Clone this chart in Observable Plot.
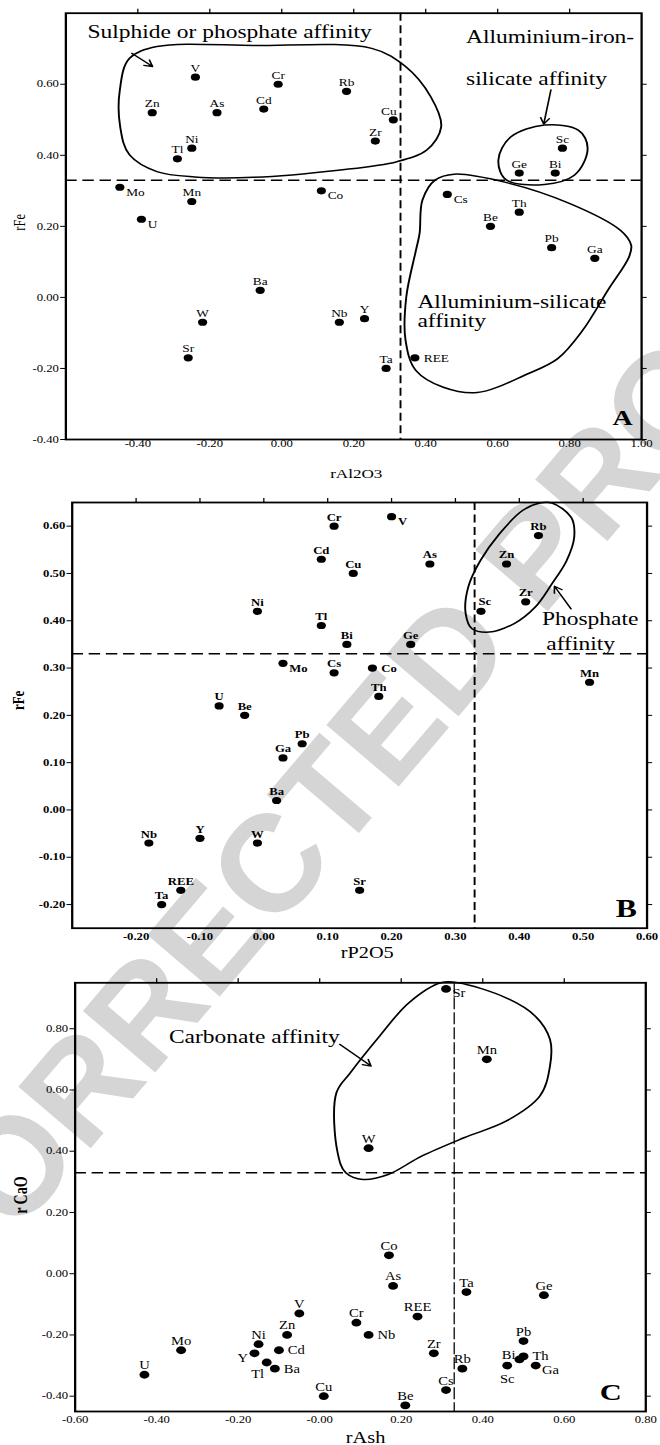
<!DOCTYPE html>
<html>
<head>
<meta charset="utf-8">
<script src="https://cdn.jsdelivr.net/npm/d3@7"></script>
<script src="https://cdn.jsdelivr.net/npm/@observablehq/plot@0.6"></script>
<style>
  html, body { margin: 0; padding: 0; background: #fff; }
  body { width: 660px; height: 1445px; position: relative; overflow: hidden; }
  #wm { position: absolute; left: 0; top: 0; }
  .panel { position: absolute; left: 0; width: 660px; }
</style>
</head>
<body>
<svg id="wm" width="660" height="1445"></svg>
<div class="panel" id="panelA" style="top:0px"></div>
<div class="panel" id="panelB" style="top:480px"></div>
<div class="panel" id="panelC" style="top:960px"></div>
<script>
// ---------------- Panel A : rAl2O3 vs rFe ----------------
const elementsA = ["V","Zn","As","Cd","Cr","Rb","Cu","Zr","Ni","Tl","Sc","Ge","Bi","Mo","Mn","Co","U","Cs","Th","Be","Pb","Ga","Ba","W","Nb","Y","Sr","Ta","REE"];
const rAl2O3A = [-0.24,-0.36,-0.18,-0.05,-0.01,0.18,0.31,0.26,-0.25,-0.29,0.78,0.66,0.76,-0.45,-0.25,0.11,-0.39,0.46,0.66,0.58,0.75,0.87,-0.06,-0.22,0.16,0.23,-0.26,0.29,0.37];
const rFeA = [0.62,0.52,0.52,0.53,0.60,0.58,0.50,0.44,0.42,0.39,0.42,0.35,0.35,0.31,0.27,0.30,0.22,0.29,0.24,0.20,0.14,0.11,0.02,-0.07,-0.07,-0.06,-0.17,-0.20,-0.17];
const xTicksA = [-0.4,-0.2,0,0.2,0.4,0.6,0.8,1.0];
const xTickLabelsA = ["-0.40","-0.20","0.00","0.20","0.40","0.60","0.80","1.00"];
const yTicksA = [-0.4,-0.2,0,0.2,0.4,0.6];
const yTickLabelsA = ["-0.40","-0.20","0.00","0.20","0.40","0.60"];
const thresholdA = [0.33, 0.33];
const outlineSulphideA = [[-0.423,0.673],[-0.347,0.706],[-0.078,0.709],[0.250,0.701],[0.344,0.650],[0.414,0.565],[0.443,0.480],[0.403,0.415],[0.320,0.382],[0.157,0.358],[-0.078,0.338],[-0.242,0.339],[-0.347,0.354],[-0.423,0.401],[-0.449,0.480],[-0.450,0.584]];
const outlineAlFeSiA = [[0.602,0.387],[0.637,0.452],[0.730,0.485],[0.824,0.471],[0.850,0.420],[0.813,0.344],[0.730,0.318],[0.625,0.330]];
const outlineAlSiA = [[0.391,0.274],[0.426,0.330],[0.479,0.347],[0.625,0.323],[0.801,0.264],[0.941,0.189],[0.971,0.147],[0.965,0.114],[0.906,0.020],[0.836,-0.093],[0.766,-0.173],[0.684,-0.215],[0.543,-0.268],[0.449,-0.253],[0.373,-0.206],[0.344,-0.121],[0.346,0.001],[0.373,0.133],[0.383,0.180]];
const notesA = [
  {t: "Sulphide or phosphate affinity", x: -0.54, y: 0.748},
  {t: "Alluminium-iron-", x: 0.512, y: 0.732},
  {t: "silicate affinity", x: 0.512, y: 0.615},
  {t: "Alluminium-silicate", x: 0.377, y: -0.013},
  {t: "affinity", x: 0.377, y: -0.067}
];
const arrowsA = [
  {x1: -0.417, y1: 0.687, x2: -0.359, y2: 0.650},
  {x1: 0.748, y1: 0.584, x2: 0.728, y2: 0.488}
];
const placeA = {Mo: "rb", U: "rb", Co: "rb", Cs: "rb", REE: "r", Cu: "al"};

// ---------------- Panel B : rP2O5 vs rFe ----------------
const elementsB = ["V","Cr","Cd","Cu","As","Rb","Zn","Zr","Sc","Ni","Tl","Bi","Ge","Mo","Cs","Co","Th","Mn","U","Be","Pb","Ga","Ba","Nb","Y","W","REE","Ta","Sr"];
const rP2O5B = [0.20,0.11,0.09,0.14,0.26,0.43,0.38,0.41,0.34,-0.01,0.09,0.13,0.23,0.03,0.11,0.17,0.18,0.51,-0.07,-0.03,0.06,0.03,0.02,-0.18,-0.10,-0.01,-0.13,-0.16,0.15];
const rFeB = [0.62,0.60,0.53,0.50,0.52,0.58,0.52,0.44,0.42,0.42,0.39,0.35,0.35,0.31,0.29,0.30,0.24,0.27,0.22,0.20,0.14,0.11,0.02,-0.07,-0.06,-0.07,-0.17,-0.20,-0.17];
const xTicksB = [-0.2,-0.1,0,0.1,0.2,0.3,0.4,0.5,0.6];
const xTickLabelsB = ["-0.20","-0.10","0.00","0.10","0.20","0.30","0.40","0.50","0.60"];
const yTicksB = [-0.2,-0.1,0,0.1,0.2,0.3,0.4,0.5,0.6];
const yTickLabelsB = ["-0.20","-0.10","0.00","0.10","0.20","0.30","0.40","0.50","0.60"];
const thresholdB = [0.33, 0.33];
const outlinePhosphateB = [[0.451,0.649],[0.481,0.619],[0.486,0.577],[0.474,0.527],[0.451,0.478],[0.425,0.429],[0.392,0.394],[0.353,0.376],[0.326,0.383],[0.316,0.415],[0.320,0.471],[0.339,0.527],[0.369,0.584],[0.405,0.633],[0.432,0.649]];
const notesB = [
  {t: "Phosphate", x: 0.511, y: 0.4025},
  {t: "affinity", x: 0.496, y: 0.351}
];
const arrowsB = [{x1: 0.481, y1: 0.425, x2: 0.455, y2: 0.473}];
const placeB = {V: "rb", Mo: "rb", Co: "r", Sc: "ar"};

// ---------------- Panel C : rAsh vs rCaO ----------------
const elementsC = ["Sr","Mn","W","Co","As","Ta","Ge","V","REE","Cr","Nb","Zn","Ni","Mo","Cd","Y","Tl","Ba","U","Cu","Zr","Rb","Cs","Be","Pb","Bi","Th","Sc","Ga"];
const rAshC = [0.31,0.41,0.12,0.17,0.18,0.36,0.55,-0.05,0.24,0.09,0.12,-0.08,-0.15,-0.34,-0.10,-0.16,-0.13,-0.11,-0.43,0.01,0.28,0.35,0.31,0.21,0.50,0.49,0.50,0.46,0.53];
const rCaOC = [0.93,0.70,0.41,0.06,-0.04,-0.06,-0.07,-0.13,-0.14,-0.16,-0.20,-0.20,-0.23,-0.25,-0.25,-0.26,-0.29,-0.31,-0.33,-0.40,-0.26,-0.31,-0.38,-0.43,-0.22,-0.28,-0.27,-0.30,-0.30];
const xTicksC = [-0.6,-0.4,-0.2,0,0.2,0.4,0.6,0.8];
const xTickLabelsC = ["-0.60","-0.40","-0.20","-0.00","0.20","0.40","0.60","0.80"];
const yTicksC = [-0.4,-0.2,0,0.2,0.4,0.6,0.8];
const yTickLabelsC = ["-0.40","-0.20","0.00","0.20","0.40","0.60","0.80"];
const thresholdC = [0.33, 0.33];
const outlineCarbonateC = [[0.297,0.95],[0.339,0.95],[0.457,0.901],[0.529,0.841],[0.565,0.765],[0.565,0.678],[0.540,0.580],[0.457,0.498],[0.354,0.444],[0.250,0.384],[0.168,0.324],[0.106,0.308],[0.064,0.330],[0.044,0.395],[0.041,0.591],[0.075,0.656],[0.147,0.776],[0.219,0.885]];
const notesC = [{t: "Carbonate affinity", x: -0.370, y: 0.774}];
const arrowsC = [{x1: 0.049, y1: 0.749, x2: 0.126, y2: 0.678}];
const placeC = {Sr: "rb", Nb: "r", Cd: "r", Ba: "r", Th: "r", Ga: "rb", Y: "lb", Tl: "lb2", Bi: "l", Sc: "b"};

// ---------------- drawing ----------------
const W = 520;            // native figure width
const S = 660 / W;        // the published figure is stretched horizontally
const SERIF = "'Liberation Serif', 'Times New Roman', serif";

const labelStyles = {
  a:   ["middle", 0, -5.5],
  al:  ["middle", -3.5, -5],
  ar:  ["middle", 3, -6],
  rb:  ["start", 5, 8.5],
  r:   ["start", 7, 4],
  lb:  ["end", -5, 9],
  lb2: ["end", -2, 15],
  l:   ["end", -3, 0],
  b:   ["middle", 0, 17]
};

function drawPanel(target, cfg) {
  const pts = cfg.names.map((name, i) => ({name, x: cfg.xs[i], y: cfg.ys[i]}));
  const fx = new Map(cfg.xTicks.map((v, i) => [v, cfg.xTickLabels[i]]));
  const fy = new Map(cfg.yTicks.map((v, i) => [v, cfg.yTickLabels[i]]));
  const labelMarks = Object.entries(labelStyles).map(([k, [anchor, dx, dy]]) =>
    Plot.text(pts.filter(d => (cfg.place[d.name] || "a") === k), {
      x: "x", y: "y", text: "name", textAnchor: anchor, lineAnchor: "bottom",
      dx, dy, fontSize: cfg.labelSize, fontWeight: cfg.labelWeight, fill: "black"
    }));
  const svg = Plot.plot({
    width: W, height: cfg.height,
    marginLeft: cfg.m[0], marginRight: cfg.m[1], marginTop: cfg.m[2], marginBottom: cfg.m[3],
    x: {domain: cfg.xDomain},
    y: {domain: cfg.yDomain},
    style: {fontFamily: SERIF, fontSize: "10px", background: "transparent", color: "black", overflow: "visible"},
    marks: [
      Plot.axisX(cfg.xTicks, {anchor: "bottom", tickSize: 0, tickPadding: cfg.xPad, tickFormat: d => fx.get(d), label: null, fontWeight: cfg.tickWeight, fontSize: 10}),
      Plot.axisX(cfg.xTopTicks, {anchor: "top", tickSize: 5, tickFormat: () => "", label: null}),
      Plot.axisY(cfg.yTicks, {anchor: "left", tickSize: 4, tickPadding: 1.5, tickFormat: d => fy.get(d), label: null, fontWeight: cfg.tickWeight, fontSize: 10}),
      Plot.axisY(cfg.yTicks, {anchor: "right", tickSize: 3.5, tickFormat: () => "", label: null}),
      Plot.ruleX([cfg.threshold[0]], {stroke: "black", strokeWidth: cfg.vWidth, strokeDasharray: cfg.vDash}),
      Plot.ruleY([cfg.threshold[1]], {stroke: "black", strokeWidth: 1.5, strokeDasharray: "9,4.5"}),
      ...cfg.outlines.map(o => Plot.line(o, {x: d => d[0], y: d => d[1], curve: "catmull-rom-closed", stroke: "black", strokeWidth: 1.5})),
      Plot.arrow(cfg.arrows, {x1: "x1", y1: "y1", x2: "x2", y2: "y2", stroke: "black", strokeWidth: 1.3, headLength: 8}),
      ...cfg.notes.map(n => Plot.text([n], {x: "x", y: "y", text: "t", textAnchor: cfg.noteAnchor, lineAnchor: "middle", fontSize: 18.5, fill: "black"})),
      Plot.dot(pts, {x: "x", y: "y", r: cfg.r, fill: "black"}),
      ...labelMarks,
      Plot.text([cfg.letter], {text: d => d, frameAnchor: "bottom-right", textAnchor: "end", lineAnchor: "bottom", dx: cfg.letterPos[0], dy: cfg.letterPos[1], fontSize: cfg.letterSize, fontWeight: "bold", fill: "black"}),
      Plot.text([cfg.xLabel], {text: d => d, frameAnchor: "bottom", textAnchor: "middle", lineAnchor: "bottom", dx: cfg.xLabelPos[0], dy: cfg.xLabelPos[1], fontSize: cfg.axisLabelSize, fill: "black"}),
      Plot.text([cfg.yLabel], {text: d => d, frameAnchor: "left", textAnchor: "middle", lineAnchor: "middle", rotate: -90, dx: cfg.yLabelPos[0], dy: cfg.yLabelPos[1], fontSize: cfg.yLabelSize, fontWeight: cfg.yLabelWeight, fill: "black"}),
      Plot.frame({stroke: "black", strokeWidth: 1.8})
    ]
  });
  svg.style.display = "block";
  svg.style.maxWidth = "none";
  svg.style.transformOrigin = "0 0";
  svg.style.transform = `scaleX(${S})`;
  document.getElementById(target).append(svg);
}

drawPanel("panelA", {
  names: elementsA, xs: rAl2O3A, ys: rFeA, place: placeA,
  height: 480, m: [51.4, 15, 12.7, 41],
  xDomain: [-0.6, 1.0], yDomain: [-0.4, 0.8],
  xTicks: xTicksA, xTickLabels: xTickLabelsA, xTopTicks: xTicksA.slice(0, 7),
  yTicks: yTicksA, yTickLabels: yTickLabelsA, xPad: 0.5, tickWeight: "normal",
  threshold: thresholdA, vWidth: 1.5, vDash: "8,4.5",
  outlines: [outlineSulphideA, outlineAlFeSiA, outlineAlSiA],
  arrows: arrowsA, notes: notesA, noteAnchor: "start",
  r: 3.6, labelSize: 10.5, labelWeight: "normal",
  letter: "A", letterPos: [-7, -15], letterSize: 22,
  xLabel: "rAl2O3", xLabelPos: [2, 38], axisLabelSize: 13.5,
  yLabel: "rFe", yLabelPos: [-36.4, -4], yLabelSize: 12.5, yLabelWeight: "normal"
});

drawPanel("panelB", {
  names: elementsB, xs: rP2O5B, ys: rFeB, place: placeB,
  height: 480, m: [56.4, 10.7, 22, 32.3],
  xDomain: [-0.3, 0.6], yDomain: [-0.25, 0.65],
  xTicks: xTicksB, xTickLabels: xTickLabelsB, xTopTicks: xTicksB.slice(0, 8),
  yTicks: yTicksB, yTickLabels: yTickLabelsB, xPad: 4.5, tickWeight: "bold",
  threshold: thresholdB, vWidth: 1.5, vDash: "8,4.5",
  outlines: [outlinePhosphateB],
  arrows: arrowsB, notes: notesB, noteAnchor: "middle",
  r: 3.6, labelSize: 10, labelWeight: "bold",
  letter: "B", letterPos: [-8, -11.7], letterSize: 25,
  xLabel: "rP2O5", xLabelPos: [6, 30], axisLabelSize: 16,
  yLabel: "rFe", yLabelPos: [-42.4, -15], yLabelSize: 13, yLabelWeight: "bold"
});

drawPanel("panelC", {
  names: elementsC, xs: rAshC, ys: rCaOC, place: placeC,
  height: 485, m: [58.7, 11.7, 22.3, 34],
  xDomain: [-0.6, 0.8], yDomain: [-0.45, 0.95],
  xTicks: xTicksC, xTickLabels: xTickLabelsC, xTopTicks: xTicksC.slice(1, 7),
  yTicks: yTicksC, yTickLabels: yTickLabelsC, xPad: 4.5, tickWeight: "normal",
  threshold: thresholdC, vWidth: 1, vDash: "12,3",
  outlines: [outlineCarbonateC],
  arrows: arrowsC, notes: notesC, noteAnchor: "start",
  r: 3.9, labelSize: 11.5, labelWeight: "normal",
  letter: "C", letterPos: [-19, -11.7], letterSize: 24,
  xLabel: "rAsh", xLabelPos: [4, 31.7], axisLabelSize: 16,
  yLabel: "r CaO", yLabelPos: [-42.3, -2], yLabelSize: 14, yLabelWeight: "bold"
});

// light grey proof watermark across the page
(function () {
  const wm = document.getElementById("wm");
  const ns = "http://www.w3.org/2000/svg";
  const t = document.createElementNS(ns, "text");
  const x0 = -49.5, y0 = 1313;
  t.setAttribute("x", x0); t.setAttribute("y", y0);
  t.setAttribute("transform", `rotate(-49.6 ${x0} ${y0})`);
  t.setAttribute("font-family", "'Liberation Sans', Arial, sans-serif");
  t.setAttribute("font-weight", "bold");
  t.setAttribute("font-size", "138");
  t.setAttribute("fill", "#d5d5d5");
  t.textContent = "CORRECTED PROOF";
  wm.appendChild(t);
})();
</script>
</body>
</html>
